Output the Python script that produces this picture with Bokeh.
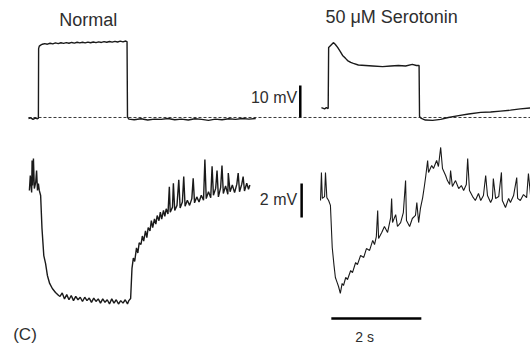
from bokeh.plotting import figure
from bokeh.models import Range1d
from bokeh.embed import file_html
from bokeh.resources import INLINE
from bokeh.core.properties import value

# ---------------- data (time in s, membrane potential in mV) ----------------
titles = ["Normal", "50 \u03bcM Serotonin"]
panel_label = "(C)"
scale_top_mv = 10
scale_bot_mv = 2
scale_time_s = 2
scale_top_label = "10 mV"
scale_bot_label = "2 mV"
scale_time_label = "2 s"

# Top row (10 mV scale), Normal
top_normal_t = [0.0, 0.05, 0.1, 0.15, 0.2, 0.22, 0.225, 0.24, 0.27, 0.31, 0.36, 0.42, 0.48, 0.54,
                0.60, 0.66, 0.72, 0.78, 0.84, 0.90, 0.96, 1.02, 1.08, 1.14, 1.20, 1.26, 1.32,
                1.38, 1.44, 1.50, 1.56, 1.62, 1.68, 1.74, 1.80, 1.86, 1.92, 1.98, 2.04, 2.10,
                2.16, 2.19, 2.20, 2.23, 2.35, 2.5, 2.65, 2.8, 2.95, 3.1, 3.25, 3.4, 3.55, 3.7,
                3.85, 4.0, 4.15, 4.3, 4.45, 4.6, 4.75, 4.9, 5.05]
top_normal_v = [-0.3, -0.1, -0.6, -0.2, -0.4, -0.2, 21.5, 22.3, 22.6, 22.9, 23.1, 22.9, 23.2, 23.0,
                23.3, 23.1, 23.35, 23.15, 23.4, 23.2, 23.45, 23.25, 23.5, 23.3, 23.5, 23.3, 23.55,
                23.35, 23.6, 23.4, 23.65, 23.45, 23.7, 23.5, 23.75, 23.55, 23.8, 23.6, 23.85, 23.65,
                23.9, 23.7, 0.2, -0.5, -0.7, -0.4, -0.8, -0.5, -0.6, -0.3, -0.7, -0.5, -0.8, -0.4,
                -0.6, -0.9, -0.5, -0.7, -0.4, -0.6, -0.3, -0.5, -0.3]

# Top row, 50 uM Serotonin (time relative to its own sweep start)
top_sero_t = [0.02, 0.09, 0.13, 0.17, 0.18, 0.29, 0.33, 0.38, 0.44, 0.49, 0.56, 0.60, 0.67, 0.73,
              0.84, 1.0, 1.16, 1.38, 1.56, 1.73, 1.89, 2.04, 2.13, 2.19, 2.20, 2.24, 2.33, 2.49,
              2.67, 2.84, 3.07, 3.29, 3.56, 3.78, 4.0, 4.22, 4.44, 4.67]
top_sero_v = [3.1, 2.7, 3.1, 2.8, 21.9, 23.4, 22.8, 21.9, 20.6, 19.4, 18.4, 17.8, 17.2, 16.9,
              16.4, 16.25, 16.1, 15.9, 16.1, 16.25, 16.1, 16.6, 16.25, 16.25, 0.3, -0.3, -0.8, -0.9,
              -0.6, 0.0, 0.6, 1.1, 1.6, 1.7, 2.0, 2.3, 2.7, 3.0]

# Bottom row (2 mV scale), Normal
bot_normal_t = [0.02, 0.04, 0.07, 0.08, 0.09, 0.11, 0.13, 0.16, 0.18, 0.2, 0.22, 0.24, 0.27,
                0.30, 0.34, 0.38, 0.42, 0.47, 0.53, 0.60, 0.67,
                0.70, 0.75, 0.80, 0.85, 0.90, 0.95, 1.00, 1.05, 1.10, 1.15, 1.20, 1.25, 1.30,
                1.35, 1.40, 1.45, 1.50, 1.55, 1.60, 1.65, 1.70, 1.75, 1.80, 1.85, 1.90, 1.95,
                2.00, 2.05, 2.10, 2.15, 2.20, 2.23, 2.27,
                2.30, 2.33, 2.36, 2.40, 2.43, 2.46, 2.50, 2.53, 2.56, 2.60, 2.63, 2.66, 2.70,
                2.73, 2.76, 2.80, 2.83, 2.86, 2.90, 2.93, 2.96, 3.00, 3.03, 3.06, 3.10, 3.13,
                3.15, 3.20, 3.22, 3.25, 3.30, 3.34, 3.37, 3.42, 3.45, 3.48, 3.53, 3.58, 3.63,
                3.66, 3.69, 3.74, 3.79, 3.84, 3.89, 3.92, 3.95, 4.00, 4.05, 4.08, 4.11, 4.16,
                4.19, 4.22, 4.27, 4.30, 4.33, 4.38, 4.43, 4.44, 4.48, 4.53, 4.58, 4.63, 4.66,
                4.69, 4.74, 4.77, 4.80, 4.85, 4.89, 4.92]
bot_normal_v = [0.18, 1.06, 0.06, 1.94, 0.47, 2.06, 0.29, 0.65, 1.35, 0.18, 0.59, 0.18, -0.12,
                -2.06, -3.65, -4.12, -4.82, -5.29, -5.59, -5.82, -6.0,
                -6.05, -5.85, -6.2, -5.95, -6.25, -6.0, -6.3, -6.05, -6.25, -6.1, -6.35, -6.1, -6.3,
                -6.15, -6.4, -6.15, -6.35, -6.2, -6.45, -6.2, -6.4, -6.25, -6.5, -6.2, -6.45, -6.25,
                -6.5, -6.3, -6.45, -6.25, -6.5, -6.3, -6.18,
                -4.4, -3.8, -4.0, -3.2, -3.5, -2.9, -3.0, -2.5, -2.8, -2.2, -2.6, -2.0, -2.2,
                -1.6, -2.0, -1.5, -1.8, -1.3, -1.6, -1.1, -1.5, -1.0, -1.35, -0.9, -1.2, 0.4,
                -1.1, -0.8, 0.6, -1.0, -0.7, 0.8, -0.85, -0.5, 1.0, -0.75, -0.4, -0.7, -0.3,
                0.9, -0.55, -0.2, -0.5, -0.1, -0.4, 2.0, -0.3, 0.1, -0.25, 1.6, -0.1, 0.3,
                1.35, -0.2, 0.35, 1.65, 0.0, 0.45, -0.05, 1.2, 0.1, 0.5, 0.05, 0.55, 1.2,
                0.1, 0.55, 1.0, 0.15, 0.6, 0.25, 0.5]

# Bottom row, 50 uM Serotonin (time relative to its own sweep start)
bot_sero_t = [0.0, 0.02, 0.04, 0.09, 0.11, 0.14, 0.18, 0.22, 0.26, 0.30, 0.33, 0.37, 0.40, 0.44,
              0.48, 0.51, 0.56, 0.60, 0.67, 0.71, 0.78, 0.82, 0.89, 0.96, 1.02, 1.09, 1.16, 1.20,
              1.24, 1.27, 1.29, 1.36, 1.42, 1.49, 1.56, 1.58, 1.60, 1.67, 1.71, 1.78, 1.84, 1.89,
              1.91, 1.98, 2.04, 2.11, 2.14, 2.18, 2.22, 2.27, 2.31, 2.34, 2.38, 2.40, 2.47, 2.51,
              2.58, 2.62, 2.67, 2.71, 2.78, 2.82, 2.87, 2.89, 2.93, 3.00, 3.07, 3.13, 3.18, 3.24,
              3.27, 3.31, 3.38, 3.44, 3.51, 3.56, 3.62, 3.67, 3.71, 3.78, 3.82, 3.84, 3.89, 3.96,
              4.02, 4.04, 4.11, 4.18, 4.22, 4.29, 4.36, 4.38, 4.44, 4.51, 4.58, 4.62, 4.67]
bot_sero_v = [-0.41, 1.24, -0.29, -0.18, 1.24, -0.24, -0.41, -0.7, -3.18, -4.24, -4.94, -5.24,
              -5.47, -5.88, -5.29, -5.41, -4.94, -5.06, -4.53, -4.65, -4.06, -4.18, -3.65, -3.76,
              -3.24, -3.35, -2.76, -3.0, -2.53, -1.0, -2.65, -2.29, -1.94, -2.29, -1.41, -0.29,
              -1.71, -1.24, -1.94, -1.71, -1.12, 0.76, -1.59, -1.94, -1.47, -1.29, -0.53, -1.71,
              -0.88, -0.24, 0.47, 1.06, 1.94, 1.24, 1.65, 1.47, 1.94, 1.59, 2.71, 1.47, 1.06,
              0.76, 0.53, 1.35, 0.41, 0.76, 0.29, 0.47, 0.18, 0.53, 2.06, 0.18, -0.18, -0.41,
              0.0, -0.41, -0.12, 1.06, -0.12, -0.53, -0.29, 0.88, -0.29, -0.18, 1.24, -0.41,
              -0.82, -0.29, -0.53, -0.12, 0.94, -0.29, -0.41, -0.06, -0.24, 1.18, -0.18]

# ---------------- layout constants ----------------
SERO_OFFSET = 6.49      # horizontal position of the serotonin sweeps (s)
BAR_T_TOP = 6.04        # position of the 10 mV bar
BAR_T_BOT = 6.07        # position of the 2 mV bar
BAR_BOT_LOW = -1.41     # lower end of the 2 mV bar
TIME_BAR_T0 = 6.73      # start of the 2 s bar
TIME_BAR_V = -7.35      # level of the 2 s bar (bottom-row units)
FONT = value("Liberation Sans")
INK = "#1a1a1a"
TXT = "#2e2e2e"

p = figure(width=530, height=349, output_backend="svg", toolbar_location=None,
           x_range=Range1d(-0.622, 11.156), y_range=Range1d(-72.5, 36.56),
           x_axis_location=None, y_axis_location=None, min_border=0)
p.extra_y_ranges = {"bot": Range1d(-9.176, 11.353)}
p.grid.visible = False
p.outline_line_color = None
p.background_fill_color = "white"
p.border_fill_color = "white"

# baseline (dashed) for the top row
p.line([0.0, 11.2], [0.0, 0.0], line_color="#3a3a3a", line_width=1, line_dash="3 2")

# traces
p.line(top_normal_t, top_normal_v, line_color=INK, line_width=1.4)
p.line([t + SERO_OFFSET for t in top_sero_t], top_sero_v, line_color=INK, line_width=1.4)
p.line(bot_normal_t, bot_normal_v, line_color=INK, line_width=1.4, y_range_name="bot")
p.line([t + SERO_OFFSET for t in bot_sero_t], bot_sero_v, line_color=INK, line_width=1.1,
       y_range_name="bot")

# scale bars
p.line([BAR_T_TOP, BAR_T_TOP], [0.0, scale_top_mv], line_color="black", line_width=2.5)
p.line([BAR_T_BOT, BAR_T_BOT], [BAR_BOT_LOW, BAR_BOT_LOW + scale_bot_mv], line_color="black",
       line_width=2.5, y_range_name="bot")
p.line([TIME_BAR_T0, TIME_BAR_T0 + scale_time_s], [TIME_BAR_V, TIME_BAR_V], line_color="black",
       line_width=2.5, y_range_name="bot")

# texts
p.text(x=[1.33], y=[30.6], text=[titles[0]], text_font=FONT, text_font_size="18px",
       text_color=TXT, text_align="center", text_baseline="middle")
p.text(x=[8.07], y=[31.56], text=[titles[1]], text_font=FONT, text_font_size="18px",
       text_color=TXT, text_align="center", text_baseline="middle")
p.text(x=[5.97], y=[6.25], text=[scale_top_label], text_font=FONT, text_font_size="16px",
       text_color=TXT, text_align="right", text_baseline="middle")
p.text(x=[5.97], y=[-0.35], text=[scale_bot_label], text_font=FONT, text_font_size="16px",
       text_color=TXT, text_align="right", text_baseline="middle", y_range_name="bot")
p.text(x=[7.47], y=[-7.95], text=[scale_time_label], text_font=FONT, text_font_size="14px",
       text_color=TXT, text_align="center", text_baseline="top", y_range_name="bot")
p.text(x=[-0.34], y=[-8.3], text=[panel_label], text_font=FONT, text_font_size="17px",
       text_color=TXT, text_align="left", text_baseline="middle", y_range_name="bot")

open("out.html", "w").write(file_html(p, INLINE))
